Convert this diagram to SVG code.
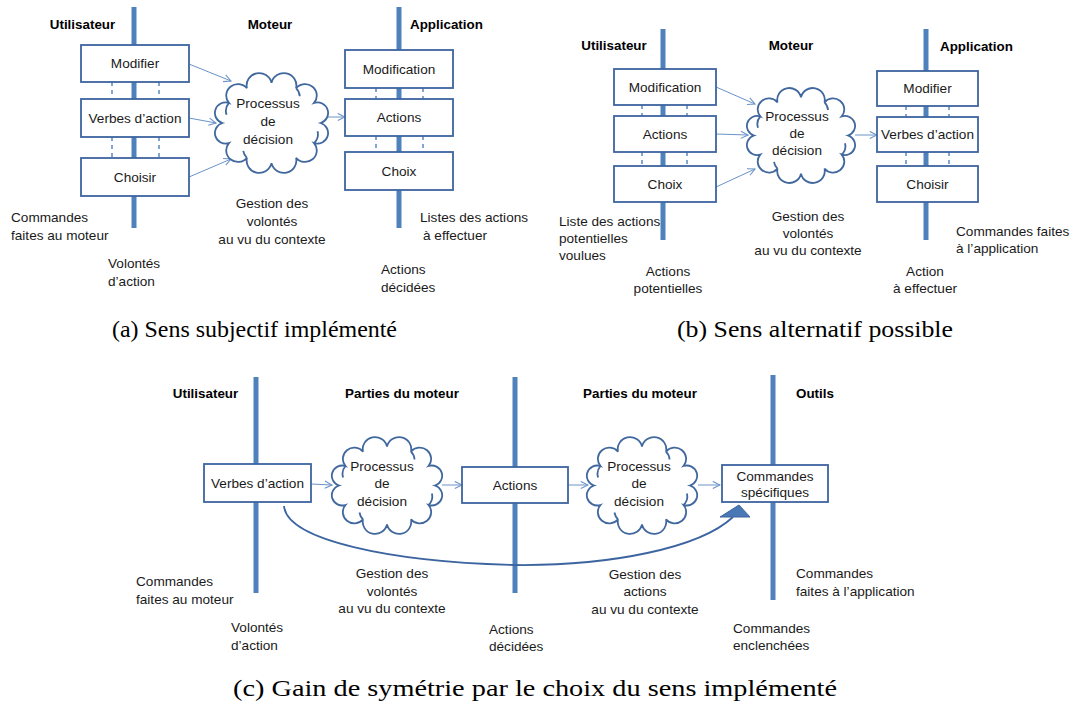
<svg xmlns="http://www.w3.org/2000/svg" xmlns:xlink="http://www.w3.org/1999/xlink" width="1071" height="704" viewBox="0 0 1071 704">
<style>
.bar{stroke:#4f81bd;stroke-width:5;fill:none}
.box{fill:#ffffff;stroke:#3c64a0;stroke-width:1.8}
.cl{fill:#ffffff;stroke:#41689e;stroke-width:1.8}
.curl{fill:none;stroke:#41689e;stroke-width:1.8}
.t{font-family:"Liberation Sans",Arial,sans-serif;font-size:13.6px;fill:#1a1a1a}
.c{text-anchor:middle}
.h{font-family:"Liberation Sans",Arial,sans-serif;font-size:13.4px;font-weight:bold;fill:#000}
.cap{font-family:"Liberation Serif","Times New Roman",serif;font-size:24px;fill:#000}
.arr{stroke:#6a93c8;stroke-width:1;fill:none;marker-end:url(#ah)}
.dash{stroke:#4f81bd;stroke-width:1.4;stroke-dasharray:4 4;fill:none}
</style>
<defs>
<marker id="ah" viewBox="0 0 10 10" refX="9" refY="5" markerWidth="9" markerHeight="9" markerUnits="userSpaceOnUse" orient="auto">
<path d="M1,1 L9,5 L1,9" fill="none" stroke="#6a93c8" stroke-width="1.2"/>
</marker>
<g id="cloud">
<path class="cl" vector-effect="non-scaling-stroke" d="M47,0 A1,1 0 0 1 40.7,19.5 A1,1 0 0 1 23.5,33.8 A1,1 0 0 1 0,39 A1,1 0 0 1 -23.5,33.8 A1,1 0 0 1 -40.7,19.5 A1,1 0 0 1 -47,0 A1,1 0 0 1 -40.7,-19.5 A1,1 0 0 1 -23.5,-33.8 A1,1 0 0 1 0,-39 A1,1 0 0 1 23.5,-33.8 A1,1 0 0 1 40.7,-19.5 A1,1 0 0 1 47,0 Z"/>
<path class="curl" vector-effect="non-scaling-stroke" d="M40.7,19.5 A12,12 0 0 0 44,8 M-40.7,-19.5 A12,12 0 0 0 -43,-8 M23.5,-33.8 A12,12 0 0 1 27,-26 M-23.5,33.8 A12,12 0 0 1 -27,27"/>
</g>
</defs>

<g id="lanes">
<line class="bar" x1="134" y1="7" x2="134" y2="228"/>
<line class="bar" x1="399" y1="7" x2="399" y2="228"/>
<line class="bar" x1="663" y1="29" x2="663" y2="240"/>
<line class="bar" x1="926" y1="29" x2="926" y2="240"/>
<line class="bar" x1="256" y1="377" x2="256" y2="593"/>
<line class="bar" x1="515" y1="377" x2="515" y2="593"/>
<line class="bar" x1="773" y1="375" x2="773" y2="600"/>
</g>

<g id="connectors">
<line class="dash" x1="112" y1="82" x2="112" y2="99"/>
<line class="dash" x1="159" y1="82" x2="159" y2="99"/>
<line class="dash" x1="112" y1="137" x2="112" y2="158"/>
<line class="dash" x1="159" y1="137" x2="159" y2="158"/>
<line class="dash" x1="376" y1="88" x2="376" y2="99"/>
<line class="dash" x1="423" y1="88" x2="423" y2="99"/>
<line class="dash" x1="376" y1="136" x2="376" y2="152"/>
<line class="dash" x1="423" y1="136" x2="423" y2="152"/>
<line class="dash" x1="642" y1="105" x2="642" y2="116"/>
<line class="dash" x1="687" y1="105" x2="687" y2="116"/>
<line class="dash" x1="642" y1="152" x2="642" y2="166"/>
<line class="dash" x1="687" y1="152" x2="687" y2="166"/>
<line class="dash" x1="906" y1="106" x2="906" y2="117"/>
<line class="dash" x1="949" y1="106" x2="949" y2="117"/>
<line class="dash" x1="906" y1="152" x2="906" y2="166"/>
<line class="dash" x1="949" y1="152" x2="949" y2="166"/>
<line class="arr" x1="189" y1="64" x2="231" y2="81"/>
<line class="arr" x1="189" y1="118" x2="216" y2="123"/>
<line class="arr" x1="189" y1="177" x2="231" y2="159"/>
<line class="arr" x1="328" y1="117" x2="345" y2="117"/>
<line class="arr" x1="716" y1="87" x2="755" y2="104"/>
<line class="arr" x1="716" y1="134" x2="748" y2="135"/>
<line class="arr" x1="716" y1="187" x2="755" y2="169"/>
<line class="arr" x1="855" y1="135" x2="877" y2="135"/>
<line class="arr" x1="311" y1="484" x2="332" y2="485"/>
<line class="arr" x1="442" y1="485" x2="462" y2="485"/>
<line class="arr" x1="568" y1="485" x2="588" y2="485"/>
<line class="arr" x1="698" y1="485" x2="720" y2="485"/>
<path d="M284,506 C287,540 390,562 515,565 C610,566 700,548 733,517" fill="none" stroke="#3c64a0" stroke-width="1.8"/>
<polygon points="720,517 750,517 739,505" fill="#4a78b5" stroke="#3c64a0" stroke-width="1"/>
</g>

<!-- Panel a -->
<g id="a-headers">
<text class="h c" x="82.5" y="28.5">Utilisateur</text>
<text class="h c" x="270" y="28.5">Moteur</text>
<text class="h" x="410" y="29">Application</text>
</g>
<g id="a-modifier"><rect class="box" x="81" y="45" width="108" height="37"/><text class="t c" x="135" y="68">Modifier</text></g>
<g id="a-verbes"><rect class="box" x="81" y="99" width="108" height="38"/><text class="t c" x="135" y="122.5">Verbes d’action</text></g>
<g id="a-choisir"><rect class="box" x="81" y="158" width="108" height="38"/><text class="t c" x="135" y="181.5">Choisir</text></g>
<g id="a-cloud"><use xlink:href="#cloud" transform="translate(271.5,123) scale(1.046,1.03)"/>
<text class="t c" x="268" y="107.5">Processus</text><text class="t c" x="268" y="125.5">de</text><text class="t c" x="268" y="143.5">décision</text></g>
<g id="a-modification"><rect class="box" x="345" y="50" width="108" height="38"/><text class="t c" x="399" y="73.5">Modification</text></g>
<g id="a-actions"><rect class="box" x="345" y="99" width="108" height="37"/><text class="t c" x="399" y="122">Actions</text></g>
<g id="a-choix"><rect class="box" x="345" y="152" width="108" height="38"/><text class="t c" x="399" y="175.5">Choix</text></g>
<g id="a-labels">
<text class="t c" x="272" y="207.5">Gestion des</text>
<text class="t c" x="272" y="225.5">volontés</text>
<text class="t c" x="272" y="243.5">au vu du contexte</text>
<text class="t" x="11" y="221.5">Commandes</text>
<text class="t" x="11" y="239.5">faites au moteur</text>
<text class="t" x="108" y="267.5">Volontés</text>
<text class="t" x="108" y="285.5">d’action</text>
<text class="t" x="420" y="221.5">Listes des actions</text>
<text class="t" x="423" y="239.5">à effectuer</text>
<text class="t" x="381" y="273.5">Actions</text>
<text class="t" x="381" y="291.5">décidées</text>
<text class="cap" x="112" y="337" textLength="285" lengthAdjust="spacingAndGlyphs">(a) Sens subjectif implémenté</text>
</g>

<!-- Panel b -->
<g id="b-headers">
<text class="h c" x="614" y="49.5">Utilisateur</text>
<text class="h c" x="791" y="49.5">Moteur</text>
<text class="h" x="940" y="50.5">Application</text>
</g>
<g id="b-modification"><rect class="box" x="614" y="69" width="102" height="36"/><text class="t c" x="665" y="91.5">Modification</text></g>
<g id="b-actions"><rect class="box" x="614" y="116" width="102" height="36"/><text class="t c" x="665" y="138.5">Actions</text></g>
<g id="b-choix"><rect class="box" x="614" y="166" width="102" height="36"/><text class="t c" x="665" y="188.5">Choix</text></g>
<g id="b-cloud"><use xlink:href="#cloud" transform="translate(801,135.5) scale(1,0.98)"/>
<text class="t c" x="797" y="121">Processus</text><text class="t c" x="797" y="138">de</text><text class="t c" x="797" y="155">décision</text></g>
<g id="b-modifier"><rect class="box" x="877" y="71" width="101" height="35"/><text class="t c" x="927.5" y="93">Modifier</text></g>
<g id="b-verbes"><rect class="box" x="877" y="117" width="101" height="35"/><text class="t c" x="927.5" y="139">Verbes d’action</text></g>
<g id="b-choisir"><rect class="box" x="877" y="166" width="101" height="36"/><text class="t c" x="927.5" y="188.5">Choisir</text></g>
<g id="b-labels">
<text class="t c" x="808" y="220.5">Gestion des</text>
<text class="t c" x="808" y="237.5">volontés</text>
<text class="t c" x="808" y="254.5">au vu du contexte</text>
<text class="t" x="559" y="225.5">Liste des actions</text>
<text class="t" x="559" y="242.5">potentielles</text>
<text class="t" x="559" y="259.5">voulues</text>
<text class="t c" x="668" y="275.5">Actions</text>
<text class="t c" x="668" y="292.5">potentielles</text>
<text class="t" x="956" y="235.5">Commandes faites</text>
<text class="t" x="956" y="252.5">à l’application</text>
<text class="t c" x="925" y="275.5">Action</text>
<text class="t c" x="925" y="292.5">à effectuer</text>
<text class="cap" x="677" y="337" textLength="276" lengthAdjust="spacingAndGlyphs">(b) Sens alternatif possible</text>
</g>

<!-- Panel c -->
<g id="c-headers">
<text class="h c" x="205.5" y="397.5">Utilisateur</text>
<text class="h c" x="402" y="397.5">Parties du moteur</text>
<text class="h c" x="640" y="397.5">Parties du moteur</text>
<text class="h" x="796" y="397.5">Outils</text>
</g>
<g id="c-verbes"><rect class="box" x="204" y="464" width="107" height="38"/><text class="t c" x="257.5" y="487.5">Verbes d’action</text></g>
<g id="c-cloud1"><use xlink:href="#cloud" transform="translate(387,485.5) scale(1.02,1)"/>
<text class="t c" x="382" y="470.5">Processus</text><text class="t c" x="382" y="487.5">de</text><text class="t c" x="382" y="505.5">décision</text></g>
<g id="c-actions"><rect class="box" x="462" y="467" width="106" height="36"/><text class="t c" x="515" y="489.5">Actions</text></g>
<g id="c-cloud2"><use xlink:href="#cloud" transform="translate(642,485.5) scale(1.02,1)"/>
<text class="t c" x="639" y="470.5">Processus</text><text class="t c" x="639" y="487.5">de</text><text class="t c" x="639" y="505.5">décision</text></g>
<g id="c-commandes"><rect class="box" x="722" y="465" width="106" height="37"/><text class="t c" x="775" y="480.5">Commandes</text><text class="t c" x="775" y="497">spécifiques</text></g>
<g id="c-labels">
<text class="t" x="136" y="586">Commandes</text>
<text class="t" x="136" y="604">faites au moteur</text>
<text class="t" x="231" y="632">Volontés</text>
<text class="t" x="231" y="650">d’action</text>
<text class="t c" x="392" y="577.5">Gestion des</text>
<text class="t c" x="392" y="595.5">volontés</text>
<text class="t c" x="392" y="613">au vu du contexte</text>
<text class="t" x="489" y="633.5">Actions</text>
<text class="t" x="489" y="651">décidées</text>
<text class="t c" x="645" y="578.5">Gestion des</text>
<text class="t c" x="645" y="596">actions</text>
<text class="t c" x="645" y="613.5">au vu du contexte</text>
<text class="t" x="796" y="578">Commandes</text>
<text class="t" x="796" y="595.5">faites à l’application</text>
<text class="t" x="733" y="633">Commandes</text>
<text class="t" x="733" y="650">enclenchées</text>
<text class="cap" x="233" y="696" textLength="604" lengthAdjust="spacingAndGlyphs">(c) Gain de symétrie par le choix du sens implémenté</text>
</g>
</svg>
